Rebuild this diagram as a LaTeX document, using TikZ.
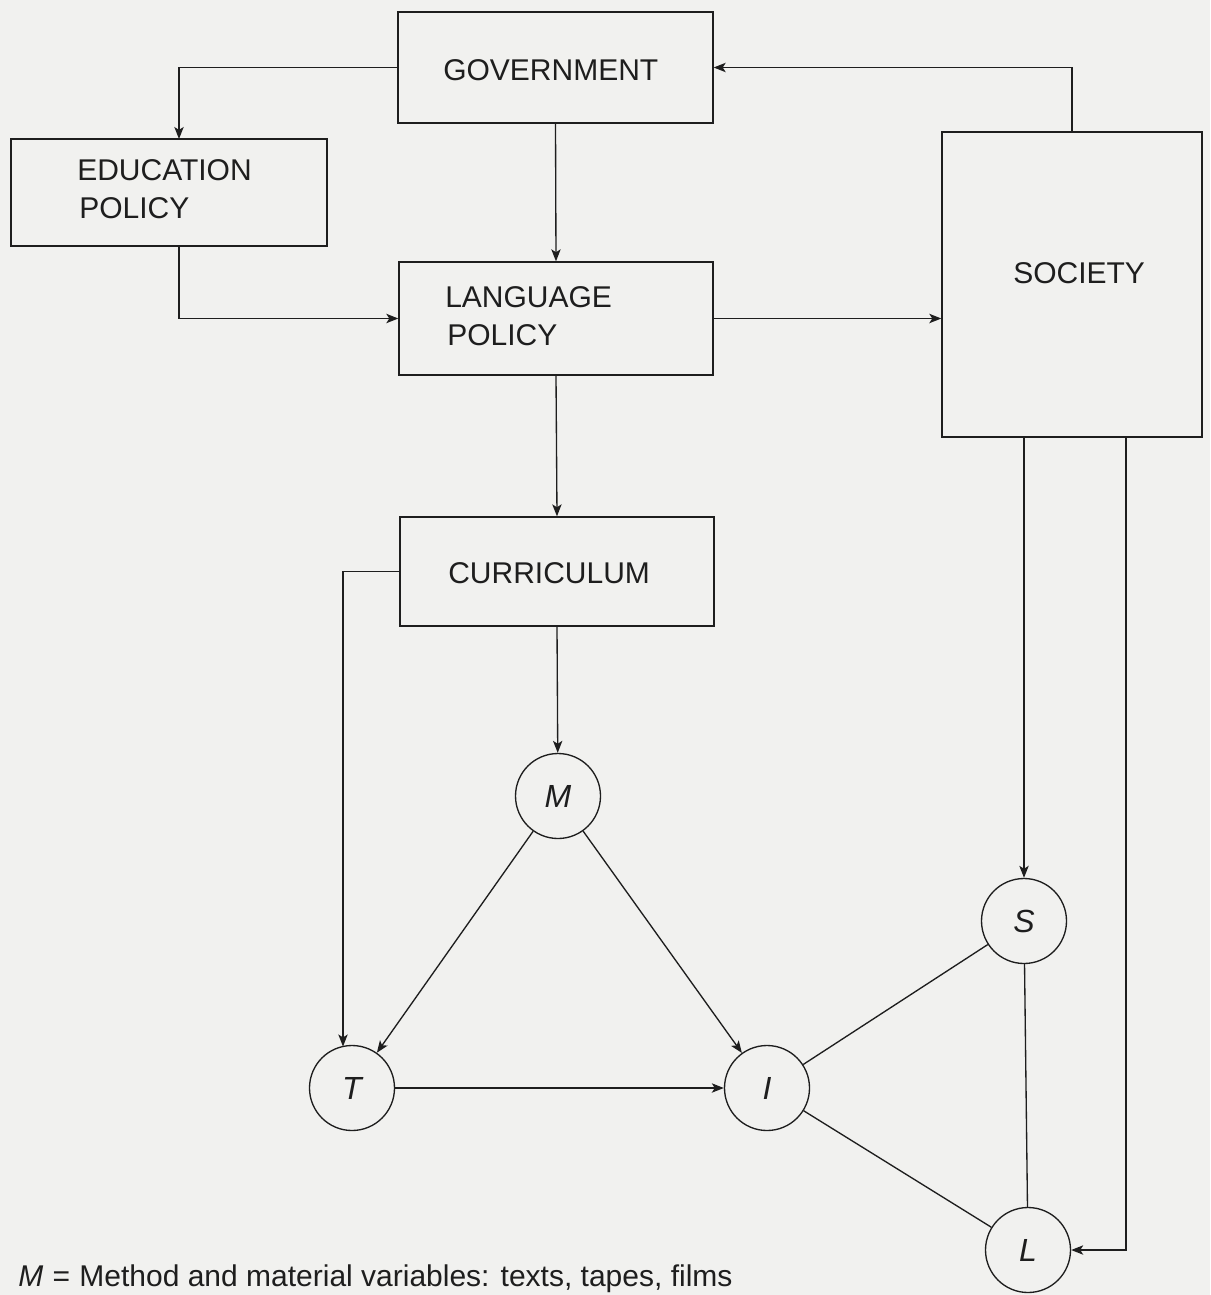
\documentclass[tikz,border=0pt]{standalone}
\usepackage{fontspec}
\setmainfont{Liberation Sans}
\usetikzlibrary{arrows.meta,calc}
\definecolor{paper}{RGB}{241,241,239}
\definecolor{ink}{RGB}{30,30,30}
\begin{document}
\begin{tikzpicture}[x=0.75pt,y=-0.75pt,
  every node/.style={font=\fontsize{22.5pt}{27pt}\selectfont, text=ink},
  boxnode/.style={draw=ink, line width=1pt, rectangle, inner sep=0pt},
  circnode/.style={draw=ink, line width=1pt, circle, minimum size=63.75pt, inner sep=0pt, font=\fontsize{24pt}{28pt}\selectfont\itshape},
  lbl/.style={anchor=base west, inner sep=0pt},
  conn/.style={draw=ink, line width=1pt},
  arr/.style={conn, -{Stealth[length=9pt,width=7pt,inset=2.2pt]}}
]
\useasboundingbox[fill=paper] (0,0) rectangle (1210,1295);

% boxes
\node[boxnode, minimum width=236.25pt, minimum height=83.25pt] (gov) at (555.5,67.5) {};
\node[boxnode, minimum width=237pt, minimum height=80.25pt] (edu) at (169,192.5) {};
\node[boxnode, minimum width=235.5pt, minimum height=84.75pt] (lp) at (556,318.5) {};
\node[boxnode, minimum width=235.5pt, minimum height=81.75pt] (cur) at (557,571.5) {};
\node[boxnode, minimum width=195pt, minimum height=228.75pt] (soc) at (1072,284.5) {};

% box labels
\node[lbl] (govt) at (443,80) {GOVERNMENT};
\node[lbl] (edut1) at (77,180) {EDUCATION};
\node[lbl] (edut2) at (79,218) {POLICY};
\node[lbl] (lpt1) at (445,307) {LANGUAGE};
\node[lbl] (lpt2) at (447,345) {POLICY};
\node[lbl] (curt) at (448,583) {CURRICULUM};
\node[lbl] (soct) at (1013,283) {SOCIETY};

% circles
\node[circnode] (M) at (558,796) {M};
\node[circnode] (T) at (352,1088) {T};
\node[circnode] (I) at (767,1088) {I};
\node[circnode] (S) at (1024,921) {S};
\node[circnode] (L) at (1028,1250) {L};

% helper coordinates
\coordinate (eduin) at (179,139);
\coordinate (eduout) at (179,246);
\coordinate (tin) at (343,1046.5);
\coordinate (socr) at (1126,437);

% connectors
\draw[arr] (gov.west) -| (eduin);
\draw[arr] (eduout) |- (lp.west);
\draw[arr] (gov.south) -- (lp.north);
\draw[arr] (lp.east) -- (lp.east -| soc.west);
\draw[arr] (soc.north) |- (gov.east);
\draw[arr] (lp.south) -- (cur.north);
\draw[arr] (cur.south) -- (M);
\draw[arr] (cur.west) -| (tin);
\draw[arr] (M) -- (T);
\draw[arr] (M) -- (I);
\draw[arr] (T) -- (I);
\draw[arr] (soc.south -| S) -- (S.north);
\draw[arr] (socr) |- (L.east);
\draw[conn] (I) -- (S);
\draw[conn] (I) -- (L);
\draw[conn] (S) -- (L);

% legend
\node[lbl] (legend) at (18,1286) {\textit{M}\hspace{7pt}=\hspace{7pt}Method and material variables: texts, tapes, films};
\end{tikzpicture}
\end{document}
